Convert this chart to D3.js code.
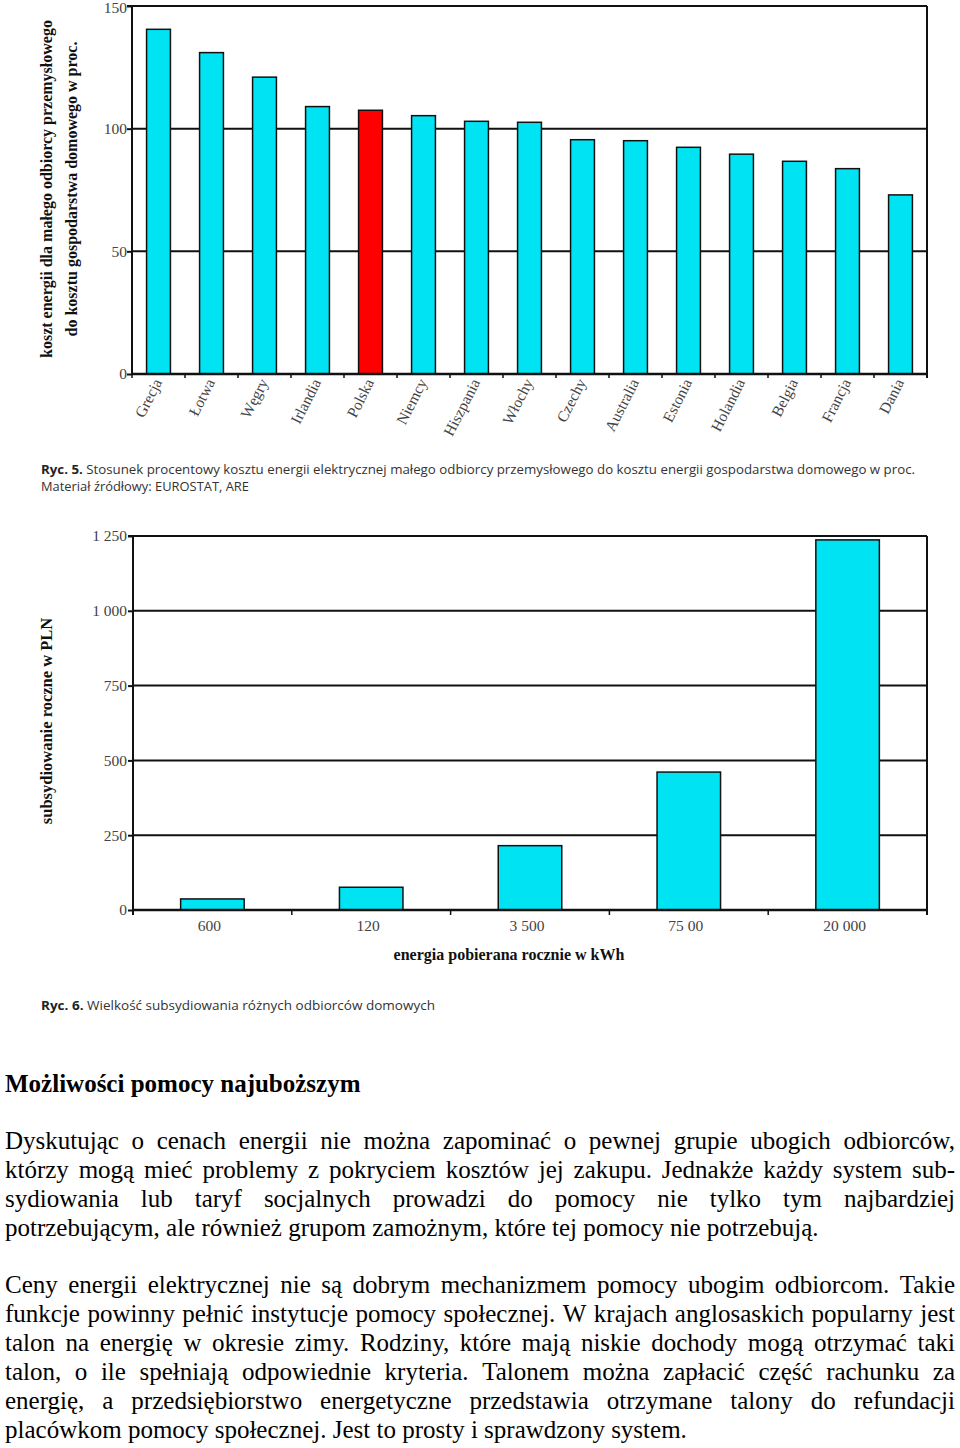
<!DOCTYPE html>
<html><head><meta charset="utf-8">
<script src="https://cdn.jsdelivr.net/npm/d3@7"></script>
<style>
html,body{margin:0;padding:0;background:#fff;}
svg{display:block;}
</style></head>
<body>
<svg id="page" width="960" height="1448"></svg>
<script>
// ---------- DATA ----------
const countries = ["Grecja","Łotwa","Węgry","Irlandia","Polska","Niemcy","Hiszpania","Włochy","Czechy","Australia","Estonia","Holandia","Belgia","Francja","Dania"];
const ratioValues = [140.5,131,121,109,107.5,105.3,103,102.6,95.5,95.1,92.4,89.6,86.7,83.7,73];
const highlighted = "Polska";
const ratioTicks = [0,50,100,150];
const ratioTitle = ["koszt energii dla małego odbiorcy przemysłowego","do kosztu gospodarstwa domowego w proc."];
const caption5 = ["Ryc. 5.","Stosunek procentowy kosztu energii elektrycznej małego odbiorcy przemysłowego do kosztu energii gospodarstwa domowego w proc."];
const source5 = "Materiał źródłowy: EUROSTAT, ARE";

const usageLabels = ["600","120","3 500","75 00","20 000"];
const subsidyValues = [37,76,215,461,1237];
const subsidyTicks = [0,250,500,750,1000,1250];
const subsidyTickLabels = ["0","250","500","750","1 000","1 250"];
const subsidyYTitle = "subsydiowanie roczne w PLN";
const subsidyXTitle = "energia pobierana rocznie w kWh";
const caption6 = ["Ryc. 6.","Wielkość subsydiowania różnych odbiorców domowych"];

const heading = "Możliwości pomocy najuboższym";
const paragraphs = [
 ["Dyskutując o cenach energii nie można zapominać o pewnej grupie ubogich odbiorców,",
  "którzy mogą mieć problemy z pokryciem kosztów jej zakupu. Jednakże każdy system sub-",
  "sydiowania lub taryf socjalnych prowadzi do pomocy nie tylko tym najbardziej",
  "potrzebującym, ale również grupom zamożnym, które tej pomocy nie potrzebują."],
 ["Ceny energii elektrycznej nie są dobrym mechanizmem pomocy ubogim odbiorcom. Takie",
  "funkcje powinny pełnić instytucje pomocy społecznej. W krajach anglosaskich popularny jest",
  "talon na energię w okresie zimy. Rodziny, które mają niskie dochody mogą otrzymać taki",
  "talon, o ile spełniają odpowiednie kryteria. Talonem można zapłacić część rachunku za",
  "energię, a przedsiębiorstwo energetyczne przedstawia otrzymane talony do refundacji",
  "placówkom pomocy społecznej. Jest to prosty i sprawdzony system."]
];

// ---------- STYLE ----------
const SERIF = "'Liberation Serif','Times New Roman',serif";
const SANS = "'Open Sans','Noto Sans',sans-serif";
const CYAN = "#00E3F3";
const RED = "#FF0000";
const TICK_FS = 15.5;
const TITLE_FS = 16;
const svg = d3.select("#page");

// ---------- CHART 1 ----------
{
  const L=132,R=927,T=6,B=374;
  const g = svg.append("g");
  const x = d3.scaleBand().domain(countries).range([L,R]).paddingInner(0.55).paddingOuter(0.275);
  const y = d3.scaleLinear().domain([0,150]).range([B,T]);
  g.selectAll(".grid").data(ratioTicks.filter(d=>d>0)).join("line")
    .attr("x1",L).attr("x2",R).attr("y1",d=>y(d)).attr("y2",d=>y(d))
    .attr("stroke","#111").attr("stroke-width",2);
  g.append("line").attr("x1",R).attr("x2",R).attr("y1",y(150)).attr("y2",y(0)+4).attr("stroke","#111").attr("stroke-width",2);
  g.selectAll(".bar").data(countries).join("rect")
    .attr("x",d=>x(d)).attr("width",x.bandwidth())
    .attr("y",(d,i)=>y(ratioValues[i])).attr("height",(d,i)=>y(0)-y(ratioValues[i]))
    .attr("fill",d=>d===highlighted?RED:CYAN).attr("stroke","#111").attr("stroke-width",1.5);
  const ya = g.append("g").attr("transform",`translate(${L},0)`)
    .call(d3.axisLeft(y).tickValues(ratioTicks).tickSize(5).tickPadding(0).tickFormat(d3.format("d")));
  ya.select(".domain").attr("stroke","#111").attr("stroke-width",2).attr("d",`M-5,${y(150)}H0V${y(0)}`);
  ya.selectAll(".tick line").attr("stroke","#111").attr("stroke-width",2);
  ya.selectAll(".tick text").attr("font-family",SERIF).attr("font-size",TICK_FS).attr("fill","#444")
    .attr("dy",d=>d===150?"0.45em":"0.32em");
  g.append("line").attr("x1",L).attr("x2",R).attr("y1",y(0)).attr("y2",y(0)).attr("stroke","#111").attr("stroke-width",2.5);
  const bounds = countries.map(d=>x(d)-(x.step()-x.bandwidth())/2).concat([R]);
  g.selectAll(".xt").data(bounds).join("line")
    .attr("x1",d=>d).attr("x2",d=>d).attr("y1",y(0)).attr("y2",y(0)+4)
    .attr("stroke","#111").attr("stroke-width",1.5);
  g.selectAll(".xl").data(countries).join("text")
    .attr("transform",d=>`translate(${x(d)+x.bandwidth()/2+4},${y(0)+8}) rotate(-63)`)
    .attr("text-anchor","end").attr("font-family",SERIF).attr("font-size",TICK_FS).attr("fill","#444")
    .text(d=>d);
  ratioTitle.forEach((t,i)=>{
    g.append("text").attr("transform",`translate(${52+i*25},189) rotate(-90)`)
      .attr("text-anchor","middle").attr("font-family",SERIF).attr("font-size",TITLE_FS).attr("font-weight","bold")
      .attr("fill","#111").text(t);
  });
  const c = svg.append("text").attr("x",41).attr("y",474).attr("font-family",SANS).attr("font-size",12.5).attr("fill","#333")
    .attr("textLength",874).attr("lengthAdjust","spacingAndGlyphs");
  c.append("tspan").attr("font-weight","bold").attr("fill","#222").text(caption5[0]+" ");
  c.append("tspan").text(caption5[1]);
  svg.append("text").attr("x",41).attr("y",491).attr("font-family",SANS).attr("font-size",12.5).attr("fill","#333")
    .attr("textLength",208).attr("lengthAdjust","spacingAndGlyphs").text(source5);
}

// ---------- CHART 2 ----------
{
  const L=133,R=927,T=536,B=910;
  const g = svg.append("g");
  const x = d3.scaleBand().domain(usageLabels).range([L,R]).paddingInner(0.6).paddingOuter(0.3);
  const y = d3.scaleLinear().domain([0,1250]).range([B,T]);
  g.selectAll(".grid").data(subsidyTicks.filter(d=>d>0)).join("line")
    .attr("x1",L).attr("x2",R).attr("y1",d=>y(d)).attr("y2",d=>y(d))
    .attr("stroke","#111").attr("stroke-width",2);
  g.append("line").attr("x1",R).attr("x2",R).attr("y1",y(1250)).attr("y2",y(0)+5).attr("stroke","#111").attr("stroke-width",2);
  g.selectAll(".bar").data(usageLabels).join("rect")
    .attr("x",d=>x(d)).attr("width",x.bandwidth())
    .attr("y",(d,i)=>y(subsidyValues[i])).attr("height",(d,i)=>y(0)-y(subsidyValues[i]))
    .attr("fill",CYAN).attr("stroke","#111").attr("stroke-width",1.5);
  const ya = g.append("g").attr("transform",`translate(${L},0)`)
    .call(d3.axisLeft(y).tickValues(subsidyTicks).tickSize(5).tickPadding(1).tickFormat((d,i)=>subsidyTickLabels[i]));
  ya.select(".domain").attr("stroke","#111").attr("stroke-width",2).attr("d",`M-5,${y(1250)}H0V${y(0)+5}`);
  ya.selectAll(".tick line").attr("stroke","#111").attr("stroke-width",2);
  ya.selectAll(".tick text").attr("font-family",SERIF).attr("font-size",TICK_FS).attr("fill","#444");
  g.append("line").attr("x1",L).attr("x2",R).attr("y1",y(0)).attr("y2",y(0)).attr("stroke","#111").attr("stroke-width",2.5);
  const bounds = usageLabels.map(d=>x(d)-(x.step()-x.bandwidth())/2).concat([R]);
  g.selectAll(".xt").data(bounds).join("line")
    .attr("x1",d=>d).attr("x2",d=>d).attr("y1",y(0)).attr("y2",y(0)+5)
    .attr("stroke","#111").attr("stroke-width",1.5);
  g.selectAll(".xl").data(usageLabels).join("text")
    .attr("x",d=>x(d)+x.bandwidth()/2-3).attr("y",y(0)+21)
    .attr("text-anchor","middle").attr("font-family",SERIF).attr("font-size",TICK_FS).attr("fill","#444")
    .text(d=>d);
  g.append("text").attr("x",509).attr("y",960).attr("text-anchor","middle")
    .attr("font-family",SERIF).attr("font-size",TITLE_FS).attr("font-weight","bold").attr("fill","#111").text(subsidyXTitle);
  g.append("text").attr("transform",`translate(52,721) rotate(-90)`).attr("text-anchor","middle")
    .attr("font-family",SERIF).attr("font-size",TITLE_FS+0.5).attr("font-weight","bold").attr("fill","#111").text(subsidyYTitle);
  const c = svg.append("text").attr("x",41).attr("y",1010).attr("font-family",SANS).attr("font-size",12.5).attr("fill","#333")
    .attr("textLength",394).attr("lengthAdjust","spacingAndGlyphs");
  c.append("tspan").attr("font-weight","bold").attr("fill","#222").text(caption6[0]+" ");
  c.append("tspan").text(caption6[1]);
}

// ---------- BODY TEXT ----------
{
  const X0=5, W=950, FS=25;
  svg.append("text").attr("x",X0).attr("y",1092).attr("font-family",SERIF).attr("font-size",FS)
    .attr("font-weight","bold").attr("fill","#000").text(heading);
  const starts=[1149,1293], LH=29;
  paragraphs.forEach((lines,pi)=>{
    lines.forEach((line,li)=>{
      const yy = starts[pi]+li*LH;
      const last = li===lines.length-1;
      const t = svg.append("text").attr("y",yy).attr("font-family",SERIF).attr("font-size",FS).attr("fill","#000");
      if(last){ t.attr("x",X0).text(line); return; }
      const words = line.split(" ");
      const spans = words.map(w=>t.append("tspan").text(w));
      const widths = spans.map(s=>s.node().getComputedTextLength());
      const total = d3.sum(widths);
      let gap = (W-total)/(words.length-1);
      if(gap<4){
        spans.forEach(s=>s.remove());
        t.attr("x",X0).attr("textLength",W).attr("lengthAdjust","spacingAndGlyphs").text(line);
        return;
      }
      let cx = X0;
      spans.forEach((s,i)=>{ s.attr("x",cx); cx += widths[i]+gap; });
    });
  });
}
</script>
</body></html>
